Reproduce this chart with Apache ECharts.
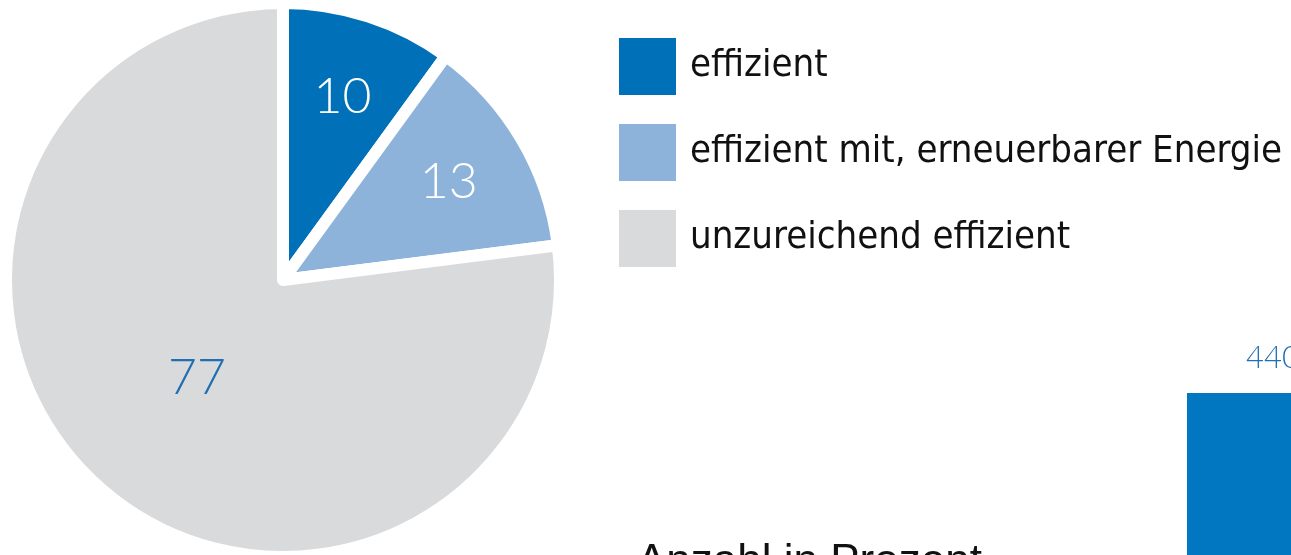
<!DOCTYPE html>
<html>
<head>
<meta charset="utf-8">
<script src="https://cdn.jsdelivr.net/npm/echarts@6/dist/echarts.min.js"></script>
<style>
  html, body { margin: 0; padding: 0; background: #fff; }
  #chart { width: 1291px; height: 555px; }
</style>
</head>
<body>
<div id="chart"></div>
<script>
var categories = ['effizient', 'effizient mit, erneuerbarer Energie', 'unzureichend effizient'];
var shares = [10, 13, 77];
var colors = ['#0070b8', '#8db3db', '#d9dadc'];
var labelColors = ['#ffffff', '#ffffff', '#1f6fb2'];

// only the first bar of a neighbouring chart shows at the right edge
var barCategories = ['a'];
var barValues = [440];

var bottomCaption = 'Anzahl in Prozent';

var chart = echarts.init(document.getElementById('chart'));
var pieCenter = [283, 280];
// how far out each inside label sits, relative to the default half radius
var labelPush = [1.36, 1.36, 0.92];

var option = {
  animation: false,
  title: {
    text: bottomCaption,
    left: 632,
    top: 536,
    textStyle: { fontFamily: 'Liberation Sans', fontSize: 44, fontWeight: 'normal', color: '#111' }
  },
  legend: {
    orient: 'vertical',
    left: 612,
    top: 31,
    itemWidth: 59,
    itemHeight: 59,
    itemGap: 25,
    icon: 'rect',
    selectedMode: false,
    data: categories,
    textStyle: {
      fontFamily: 'DejaVu Sans Condensed',
      fontSize: 38,
      color: '#111',
      padding: [0, 0, 0, 8]
    }
  },
  grid: { left: 1187, right: -68, top: 393, bottom: -120, outerBoundsMode: 'none' },
  xAxis: { type: 'category', data: barCategories, show: false },
  yAxis: { type: 'value', min: 0, max: 440, show: false },
  series: [
    {
      type: 'pie',
      center: pieCenter,
      radius: 277,
      startAngle: 90,
      clockwise: true,
      silent: true,
      itemStyle: { borderColor: '#ffffff', borderWidth: 12 },
      label: {
        show: true,
        position: 'inside',
        fontFamily: 'Lato',
        fontWeight: 300,
        fontSize: 50,
        formatter: '{c}'
      },
      labelLine: { show: false },
      labelLayout: function (p) {
        var r = p.labelRect;
        var lx = r.x + r.width / 2;
        var ly = r.y + r.height / 2;
        var k = labelPush[p.dataIndex] - 1;
        return { dx: (lx - pieCenter[0]) * k, dy: (ly - pieCenter[1]) * k };
      },
      data: categories.map(function (c, i) {
        return {
          name: c,
          value: shares[i],
          itemStyle: { color: colors[i] },
          label: { color: labelColors[i] }
        };
      })
    },
    {
      type: 'bar',
      data: barValues,
      barWidth: '100%',
      silent: true,
      itemStyle: { color: '#0077c0' },
      label: {
        show: true,
        position: 'top',
        distance: 20,
        color: '#1f6fb2',
        fontFamily: 'Lato',
        fontWeight: 300,
        fontSize: 31
      }
    }
  ]
};
chart.setOption(option);
</script>
</body>
</html>
